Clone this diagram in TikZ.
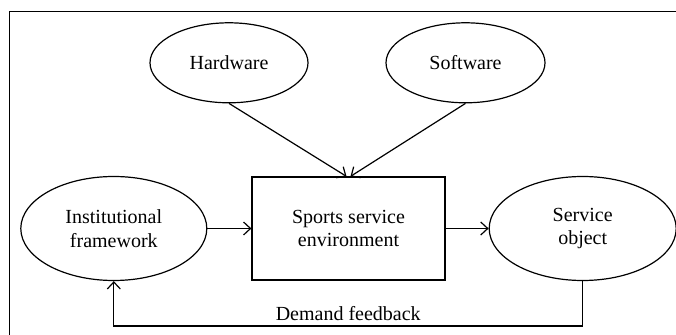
\documentclass[tikz,border=0pt]{standalone}
\usepackage{fontspec}
\setmainfont{Liberation Serif}
\usetikzlibrary{positioning, shapes.geometric, arrows.meta}

\tikzset{
  elem/.style={ellipse, draw, line width=1.2pt, inner sep=0pt, align=center,
    font=\fontsize{20}{23.5}\selectfont},
  core/.style={rectangle, draw, line width=1.2pt, align=center,
    minimum width=193pt, minimum height=103pt,
    font=\fontsize{20}{23.5}\selectfont},
  link/.style={line width=1.2pt, -{Straight Barb[length=7pt,width=13pt,line width=1.2pt]}}
}

\begin{document}
\begin{tikzpicture}[x=1pt, y=1pt]

  \useasboundingbox (0,0) rectangle (676,334);
  \clip (0,0) rectangle (676,334);
  % outer frame
  \draw[line width=1pt] (9.5,-20) -- (9.5,322) -- (700,322);

  % Define nodes
  \node[core] (env) at (348.5,105.5) {Sports service\\environment};
  \node[elem, minimum width=158pt, minimum height=80pt,
        above=73pt of env, xshift=-119.5pt] (hw) {Hardware};
  \node[elem, minimum width=159pt, minimum height=80pt,
        above=73pt of env, xshift=117pt] (sw) {Software};
  \node[elem, minimum width=186pt, minimum height=104pt,
        left=44pt of env] (inst) {Institutional\\framework};
  \node[elem, minimum width=187pt, minimum height=104pt,
        right=43pt of env] (obj) {Service\\object};

  % Connect the nodes
  \draw[link] (hw.south) -- ([xshift=-2pt]env.north);
  \draw[link] (sw.south) -- ([xshift=2pt]env.north);
  \draw[link] (inst.east) -- (env.west);
  \draw[link] (env.east) -- (obj.west);
  \draw[link] (obj.south) -- ++(0,-45) -| (inst.south)
    node[pos=0.25, above=1pt, font=\fontsize{20}{23.5}\selectfont] {Demand feedback};

\end{tikzpicture}
\end{document}
